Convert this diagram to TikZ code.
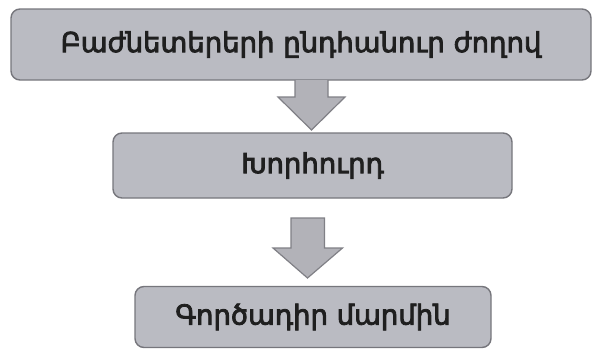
\documentclass[tikz,border=0pt]{standalone}
\usepackage{fontspec}
\newfontfamily\armfont[FakeBold=3]{DejaVu Sans}
\definecolor{boxfill}{RGB}{186,187,194}
\definecolor{boxline}{RGB}{118,118,124}
\definecolor{arrfill}{RGB}{178,178,184}
\definecolor{arrline}{RGB}{128,128,134}
\tikzset{
  stagebox/.style={draw=boxline, line width=1.4pt, fill=boxfill, rounded corners=9pt,
    inner sep=0pt, font=\armfont\fontsize{27.5}{32}\selectfont, text=black!88},
  bigarrow/.style={draw=arrline, line width=1.2pt, fill=arrfill, line join=miter}
}
\begin{document}
\begin{tikzpicture}[x=1pt,y=-1pt]
\useasboundingbox (0,0) rectangle (594,351);
\node[stagebox, minimum width=580pt, minimum height=71pt] (b1) at (301,44.5) {Բաժնետերերի ընդհանուր ժողով};
\node[stagebox, minimum width=399pt, minimum height=65pt] (b2) at (312.5,165.5) {Խորհուրդ};
\node[stagebox, minimum width=356pt, minimum height=61pt] (b3) at (313,317) {Գործադիր մարմին};
% arrow 1
\coordinate (a1s) at (311.5,80);
\coordinate (a1t) at (311.5,130);
\draw[bigarrow] (a1s) ++(-16.5,0) -- ++(0,17) -- ++(-17,0) -- (a1t) -- ++(33.5,-33) -- ++(-17,0) -- ++(0,-17);
% arrow 2
\coordinate (a2s) at (307.5,218);
\coordinate (a2t) at (307.5,278);
\draw[bigarrow] (a2s) ++(-16.5,0) -- ++(0,30) -- ++(-18,0) -- (a2t) -- ++(35,-30) -- ++(-18,0) -- ++(0,-30) -- cycle;
\end{tikzpicture}
\end{document}
